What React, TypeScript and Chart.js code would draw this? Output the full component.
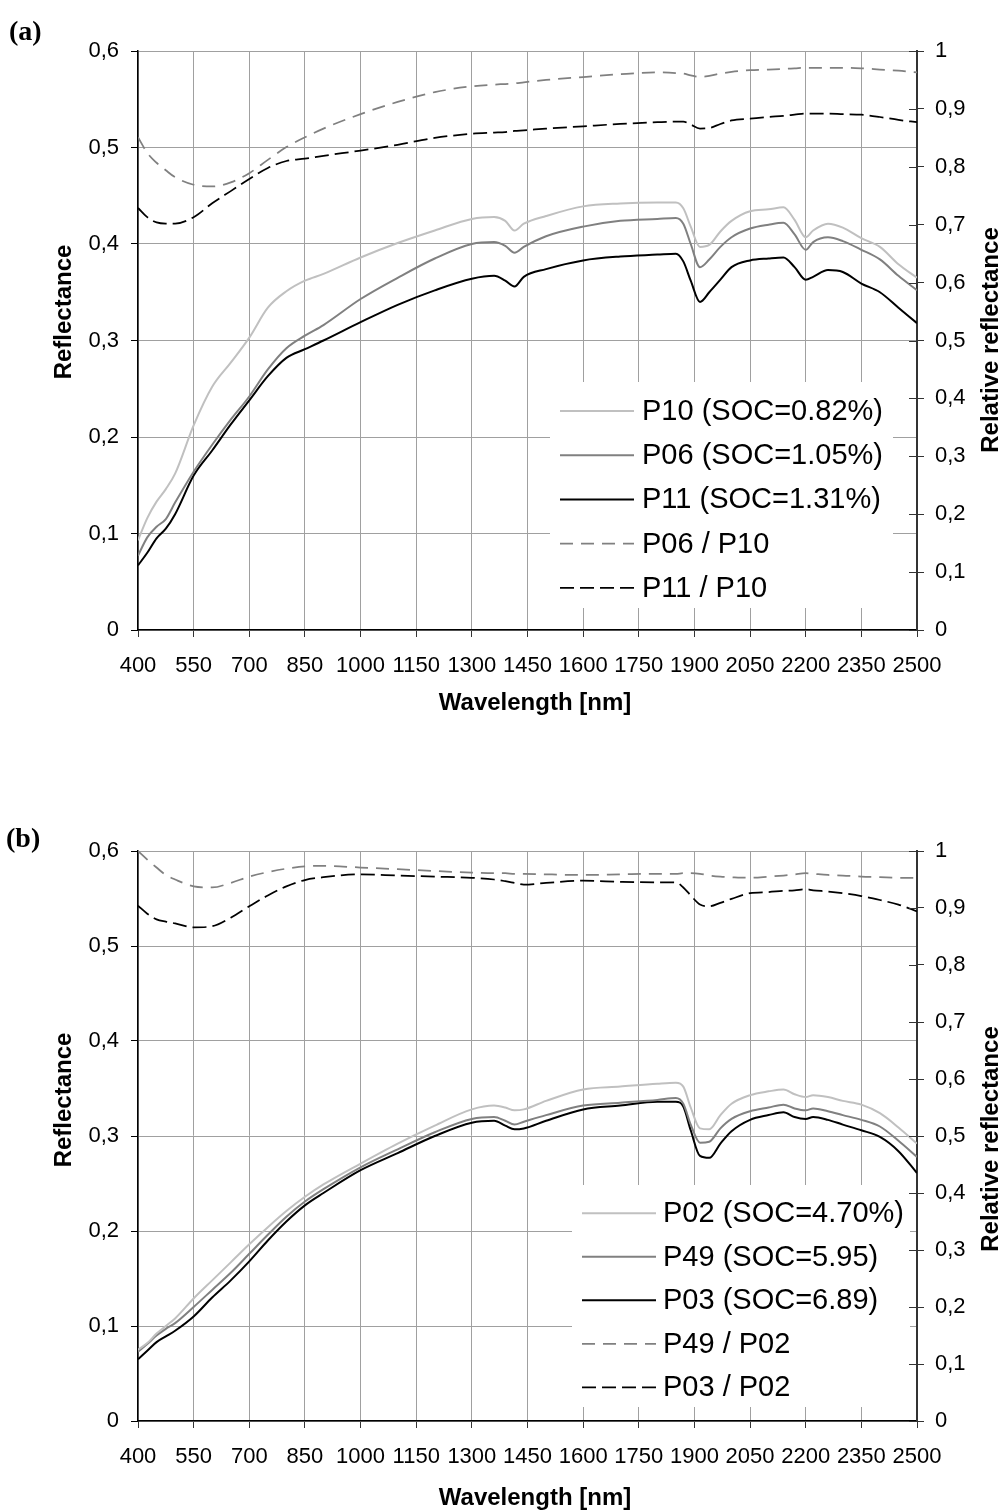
import React, { useEffect, useRef } from 'react';
import { Chart, registerables } from 'chart.js';

Chart.register(...registerables);

const FONT = "'Liberation Sans', Arial, Helvetica, sans-serif";

// ---------- data ----------
const WAVELENGTHS = [400, 425, 450, 475, 500, 550, 600, 650, 700, 750, 800, 850, 900, 1000, 1100, 1200, 1300, 1360, 1390, 1415, 1440, 1500, 1600, 1700, 1800, 1850, 1870, 1890, 1915, 1940, 1970, 2000, 2050, 2100, 2140, 2170, 2200, 2220, 2260, 2300, 2350, 2400, 2450, 2500];

const X_TICKS = [400, 550, 700, 850, 1000, 1150, 1300, 1450, 1600, 1750, 1900, 2050, 2200, 2350, 2500];
const REFL_TICKS = [0, 0.1, 0.2, 0.3, 0.4, 0.5, 0.6];
const REL_TICKS = [0, 0.1, 0.2, 0.3, 0.4, 0.5, 0.6, 0.7, 0.8, 0.9, 1];

const X_TITLE = 'Wavelength [nm]';
const Y_TITLE = 'Reflectance';
const Y2_TITLE = 'Relative reflectance';

// Panel (a)
const LABELS_A = ['P10 (SOC=0.82%)', 'P06 (SOC=1.05%)', 'P11 (SOC=1.31%)', 'P06 / P10', 'P11 / P10'];
const P10_A = [0.093, 0.116, 0.133, 0.146, 0.162, 0.212, 0.252, 0.277, 0.303, 0.334, 0.351, 0.362, 0.369, 0.386, 0.401, 0.414, 0.426, 0.428, 0.424, 0.414, 0.421, 0.429, 0.439, 0.442, 0.443, 0.443, 0.437, 0.418, 0.397, 0.399, 0.413, 0.424, 0.434, 0.436, 0.438, 0.425, 0.407, 0.414, 0.421, 0.417, 0.406, 0.397, 0.379, 0.365];
const P06_A = [0.077, 0.096, 0.107, 0.115, 0.132, 0.164, 0.192, 0.218, 0.242, 0.270, 0.292, 0.305, 0.316, 0.343, 0.365, 0.385, 0.400, 0.402, 0.398, 0.391, 0.397, 0.408, 0.418, 0.424, 0.426, 0.427, 0.421, 0.400, 0.376, 0.384, 0.397, 0.407, 0.416, 0.420, 0.422, 0.410, 0.394, 0.402, 0.407, 0.403, 0.394, 0.384, 0.367, 0.352];
const P11_A = [0.067, 0.080, 0.095, 0.105, 0.120, 0.160, 0.186, 0.213, 0.238, 0.263, 0.282, 0.291, 0.300, 0.319, 0.337, 0.352, 0.364, 0.367, 0.362, 0.356, 0.366, 0.374, 0.383, 0.387, 0.389, 0.390, 0.382, 0.362, 0.340, 0.350, 0.363, 0.376, 0.383, 0.385, 0.386, 0.376, 0.363, 0.366, 0.373, 0.371, 0.359, 0.350, 0.334, 0.318];
const P06_P10_A = [0.851, 0.824, 0.807, 0.794, 0.782, 0.769, 0.766, 0.773, 0.789, 0.812, 0.834, 0.851, 0.866, 0.891, 0.912, 0.929, 0.939, 0.942, 0.943, 0.944, 0.946, 0.950, 0.955, 0.960, 0.963, 0.962, 0.961, 0.958, 0.955, 0.957, 0.961, 0.964, 0.967, 0.968, 0.969, 0.970, 0.971, 0.971, 0.971, 0.971, 0.970, 0.968, 0.966, 0.963];
const P11_P10_A = [0.729, 0.713, 0.704, 0.702, 0.702, 0.713, 0.737, 0.758, 0.779, 0.798, 0.810, 0.814, 0.819, 0.828, 0.838, 0.850, 0.857, 0.859, 0.860, 0.862, 0.863, 0.866, 0.870, 0.874, 0.877, 0.878, 0.878, 0.873, 0.866, 0.867, 0.874, 0.880, 0.883, 0.886, 0.888, 0.890, 0.892, 0.892, 0.892, 0.891, 0.890, 0.886, 0.881, 0.877];

// Panel (b)
const LABELS_B = ['P02 (SOC=4.70%)', 'P49 (SOC=5.95)', 'P03 (SOC=6.89)', 'P49 / P02', 'P03 / P02'];
const P02_B = [0.075, 0.082, 0.092, 0.100, 0.108, 0.129, 0.148, 0.167, 0.186, 0.204, 0.221, 0.236, 0.249, 0.271, 0.292, 0.311, 0.328, 0.332, 0.330, 0.327, 0.328, 0.337, 0.349, 0.352, 0.355, 0.356, 0.352, 0.330, 0.308, 0.307, 0.322, 0.334, 0.343, 0.347, 0.349, 0.344, 0.341, 0.343, 0.341, 0.337, 0.333, 0.324, 0.309, 0.292];
const P49_B = [0.073, 0.081, 0.090, 0.097, 0.103, 0.120, 0.138, 0.156, 0.176, 0.196, 0.215, 0.231, 0.244, 0.267, 0.286, 0.304, 0.318, 0.320, 0.316, 0.312, 0.315, 0.322, 0.332, 0.335, 0.338, 0.340, 0.334, 0.312, 0.293, 0.294, 0.308, 0.318, 0.326, 0.330, 0.333, 0.329, 0.327, 0.329, 0.326, 0.322, 0.317, 0.310, 0.295, 0.278];
const P03_B = [0.065, 0.074, 0.083, 0.089, 0.095, 0.110, 0.130, 0.148, 0.168, 0.190, 0.210, 0.227, 0.240, 0.264, 0.282, 0.300, 0.314, 0.316, 0.311, 0.307, 0.308, 0.316, 0.328, 0.332, 0.336, 0.336, 0.331, 0.306, 0.279, 0.277, 0.292, 0.305, 0.317, 0.322, 0.325, 0.320, 0.318, 0.320, 0.317, 0.312, 0.306, 0.299, 0.284, 0.261];
const P49_P02_B = [1.0, 0.985, 0.971, 0.958, 0.950, 0.938, 0.936, 0.944, 0.955, 0.963, 0.969, 0.973, 0.974, 0.971, 0.968, 0.965, 0.962, 0.961, 0.961, 0.960, 0.960, 0.959, 0.958, 0.959, 0.960, 0.960, 0.961, 0.961, 0.960, 0.957, 0.955, 0.954, 0.953, 0.955, 0.957, 0.959, 0.961, 0.960, 0.958, 0.957, 0.955, 0.954, 0.953, 0.953];
const P03_P02_B = [0.904, 0.890, 0.880, 0.876, 0.873, 0.866, 0.868, 0.883, 0.903, 0.922, 0.938, 0.949, 0.954, 0.959, 0.957, 0.955, 0.953, 0.950, 0.947, 0.944, 0.941, 0.944, 0.948, 0.946, 0.945, 0.945, 0.936, 0.922, 0.906, 0.903, 0.909, 0.916, 0.926, 0.928, 0.930, 0.931, 0.933, 0.931, 0.929, 0.926, 0.921, 0.914, 0.906, 0.894];

// ---------- styles / layout ----------
const STYLES = [
  { color: '#c0c0c0', width: 2, dash: [] as number[], axis: 'y' },
  { color: '#808080', width: 2, dash: [] as number[], axis: 'y' },
  { color: '#000000', width: 2, dash: [] as number[], axis: 'y' },
  { color: '#808080', width: 1.75, dash: [13, 8], axis: 'y2' },
  { color: '#000000', width: 1.75, dash: [14, 6], axis: 'y2' },
];

const LAYOUT_A = {
  top: 0, height: 740, areaTop: 51, areaBottom: 630,
  legend: { x: 550, y: 382, w: 343, h: 226, lineX1: 560, lineX2: 634, textX: 642, rowY: 411, rowStep: 44.2, fontSize: 29 },
  titles: { xX: 535, xY: 703, leftX: 64, leftY: 312, rightX: 991, rightY: 340, size: 24 },
};
const LAYOUT_B = {
  top: 800, height: 712, areaTop: 51, areaBottom: 621,
  legend: { x: 572, y: 385, w: 338, h: 222, lineX1: 582, lineX2: 656, textX: 663, rowY: 413.3, rowStep: 43.5, fontSize: 29 },
  titles: { xX: 535, xY: 698, leftX: 64, leftY: 300, rightX: 991, rightY: 339, size: 24 },
};

const fmt = (v: number) => String(Math.round(v * 10) / 10).replace('.', ',');

const decorPlugin = {
  id: 'decor',
  afterDraw(chart: any, _args: any, opts: any) {
    const ctx = chart.ctx;
    const { legend, titles } = opts;
    ctx.save();
    // legend
    ctx.fillStyle = '#ffffff';
    ctx.fillRect(legend.x, legend.y, legend.w, legend.h);
    chart.data.datasets.forEach((ds: any, i: number) => {
      const y = legend.rowY + i * legend.rowStep;
      ctx.beginPath();
      ctx.setLineDash(ds.borderDash || []);
      ctx.lineWidth = ds.borderWidth;
      ctx.strokeStyle = ds.borderColor;
      ctx.moveTo(legend.lineX1, y);
      ctx.lineTo(legend.lineX2, y);
      ctx.stroke();
      ctx.setLineDash([]);
      ctx.fillStyle = '#000';
      ctx.font = `${legend.fontSize}px ${FONT}`;
      ctx.textAlign = 'left';
      ctx.textBaseline = 'middle';
      ctx.fillText(ds.label, legend.textX, y + 1);
    });
    // inner part of right-axis tick marks
    const y2 = chart.scales.y2;
    const right = chart.chartArea.right;
    ctx.strokeStyle = '#333';
    ctx.lineWidth = 1;
    y2.ticks.forEach((t: any) => {
      const py = Math.round(y2.getPixelForValue(t.value)) + 0.5;
      ctx.beginPath();
      ctx.moveTo(right - 8, py);
      ctx.lineTo(right, py);
      ctx.stroke();
    });
    // axis titles
    ctx.fillStyle = '#000';
    ctx.font = `bold ${titles.size}px ${FONT}`;
    ctx.textAlign = 'center';
    ctx.textBaseline = 'middle';
    ctx.fillText(X_TITLE, titles.xX, titles.xY);
    ctx.save();
    ctx.translate(titles.leftX, titles.leftY);
    ctx.rotate(-Math.PI / 2);
    ctx.fillText(Y_TITLE, 0, 0);
    ctx.restore();
    ctx.save();
    ctx.translate(titles.rightX, titles.rightY);
    ctx.rotate(-Math.PI / 2);
    ctx.fillText(Y2_TITLE, 0, 0);
    ctx.restore();
    ctx.restore();
  },
};

function Panel({ layout, labels, values }: any) {
  const ref = useRef<HTMLCanvasElement>(null);
  useEffect(() => {
    const canvas = ref.current as HTMLCanvasElement;
    const datasets = values.map((vals: number[], i: number) => ({
      label: labels[i],
      data: WAVELENGTHS.map((w, j) => ({ x: w, y: vals[j] })),
      borderColor: STYLES[i].color,
      borderWidth: STYLES[i].width,
      borderDash: STYLES[i].dash,
      yAxisID: STYLES[i].axis,
      pointRadius: 0,
      cubicInterpolationMode: 'monotone',
      fill: false,
    }));
    const tickFont = { family: FONT, size: 22 };
    const chart = new Chart(canvas, {
      type: 'line',
      data: { datasets },
      options: {
        responsive: false,
        animation: false,
        devicePixelRatio: 1,
        events: [],
        layout: { padding: { top: layout.areaTop, left: 0, right: 0, bottom: 0 } },
        plugins: {
          legend: { display: false },
          tooltip: { enabled: false },
          decor: { legend: layout.legend, titles: layout.titles },
        },
        scales: {
          x: {
            type: 'linear',
            position: 'bottom',
            min: 400,
            max: 2500,
            afterBuildTicks: (s: any) => { s.ticks = X_TICKS.map((v) => ({ value: v })); },
            afterFit: (s: any) => { s.height = layout.height - layout.areaBottom; },
            ticks: { autoSkip: false, maxRotation: 0, minRotation: 0, padding: 16, color: '#000', font: tickFont, callback: (v: any) => String(v) },
            grid: { color: '#a0a0a0', lineWidth: 1, tickLength: 7, tickColor: '#333' },
            border: { color: '#000', width: 1.5 },
          },
          y: {
            type: 'linear',
            position: 'left',
            min: 0,
            max: 0.6,
            afterBuildTicks: (s: any) => { s.ticks = REFL_TICKS.map((v) => ({ value: v })); },
            afterFit: (s: any) => { s.width = 138; },
            ticks: { padding: 12, color: '#000', font: tickFont, callback: (v: any) => fmt(v) },
            grid: { color: '#a0a0a0', lineWidth: 1, tickLength: 7, tickColor: '#000' },
            border: { color: '#000', width: 1.5 },
          },
          y2: {
            type: 'linear',
            position: 'right',
            min: 0,
            max: 1,
            afterBuildTicks: (s: any) => { s.ticks = REL_TICKS.map((v) => ({ value: v })); },
            afterFit: (s: any) => { s.width = 90; },
            ticks: { padding: 11, color: '#000', font: tickFont, callback: (v: any) => fmt(v) },
            grid: { drawOnChartArea: false, tickLength: 7, tickColor: '#333' },
            border: { color: '#333', width: 2 },
          },
        },
      } as any,
      plugins: [decorPlugin],
    });
    return () => chart.destroy();
  }, []);
  return (
    <canvas
      ref={ref}
      width={1007}
      height={layout.height}
      style={{ position: 'absolute', left: 0, top: layout.top, width: 1007, height: layout.height }}
    />
  );
}

const panelLabelStyle: any = {
  position: 'absolute',
  font: "bold 28px 'Liberation Serif', 'DejaVu Serif', serif",
  lineHeight: '28px',
  color: '#000',
};

export default function App() {
  return (
    <div style={{ position: 'absolute', left: 0, top: 0, width: 1007, height: 1512, background: '#fff', overflow: 'hidden' }}>
      <Panel layout={LAYOUT_A} labels={LABELS_A} values={[P10_A, P06_A, P11_A, P06_P10_A, P11_P10_A]} />
      <Panel layout={LAYOUT_B} labels={LABELS_B} values={[P02_B, P49_B, P03_B, P49_P02_B, P03_P02_B]} />
      <div style={{ ...panelLabelStyle, left: 9, top: 17 }}>(a)</div>
      <div style={{ ...panelLabelStyle, left: 6, top: 824 }}>(b)</div>
    </div>
  );
}
